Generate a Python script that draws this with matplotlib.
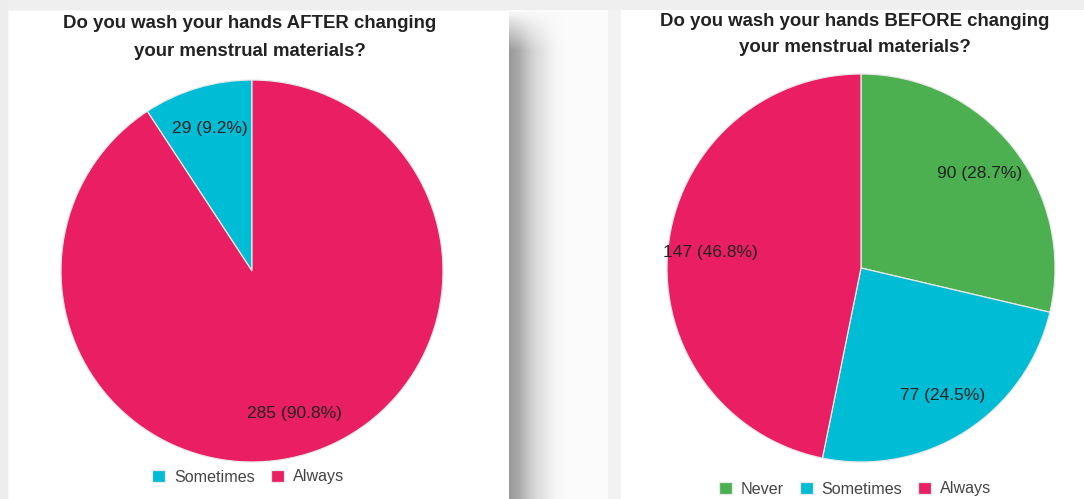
import numpy as np
import matplotlib
matplotlib.use("Agg")
import matplotlib.pyplot as plt
from matplotlib.patches import Rectangle

plt.rcParams['font.family'] = ['Liberation Sans', 'DejaVu Sans']

# Figure size in pixels (dpi 100)
W, H = 1084, 499

# Survey answers
after_labels = ["Sometimes", "Always"]
after_counts = [29, 285]
before_labels = ["Never", "Sometimes", "Always"]
before_counts = [90, 77, 147]

after_title = ["Do you wash your hands AFTER changing", "your menstrual materials?"]
before_title = ["Do you wash your hands BEFORE changing", "your menstrual materials?"]

COLORS = {"Never": "#4caf50", "Sometimes": "#00bcd4", "Always": "#e91e63"}


def make_background():
    # light grey page with card shadows
    bg = np.full((H, W), 0.965)
    bg[:10, :] = 0.94
    bg[:, :8] = 0.93
    xs = np.arange(W)
    ys = np.arange(H)
    # shadow to the right of the left card
    prof_x = [509, 519, 527, 534, 542, 550, 557, 566]
    prof_v = [0.60, 0.67, 0.77, 0.84, 0.89, 0.94, 0.97, 0.985]
    shade = np.interp(xs, prof_x, prof_v, left=0.985, right=0.985)
    fade = np.clip((ys - 10) / 40.0, 0, 1)
    sh = 0.985 - (0.985 - shade[None, :]) * fade[:, None]
    bg[10:, 509:570] = sh[10:, 509:570]
    bg[10:, 570:608] = 0.985
    bg[10:, 608:621] = 0.95
    return np.dstack([bg, bg, bg])


def draw_pie(fig, cx, cy, r, labels, counts, counterclock, title, title_x, title_y, legend_x, legend_y):
    ax = fig.add_axes([(cx - r) / W, 1 - (cy + r) / H, 2 * r / W, 2 * r / H])
    ax.patch.set_alpha(0)
    total = sum(counts)

    def fmt(pct):
        n = int(round(pct * total / 100.0))
        return f"{n} ({pct:.1f}%)"

    wedges, _, autotexts = ax.pie(
        counts,
        colors=[COLORS[l] for l in labels],
        startangle=90,
        counterclock=counterclock,
        autopct=fmt,
        pctdistance=0.78,
        wedgeprops=dict(edgecolor="#e8e8e8", linewidth=0.9),
        textprops=dict(fontsize=12.5, color="#222222"),
    )
    ax.set_xlim(-1, 1)
    ax.set_ylim(-1, 1)
    ax.set_aspect("auto")
    ax.axis("off")

    for i, line in enumerate(title):
        fig.text(title_x / W, 1 - (title_y + 27 * i) / H, line, ha="center", va="center",
                 fontsize=13.4, fontweight="bold", color="#222222")

    leg = fig.legend(wedges, labels, loc="center", bbox_to_anchor=(legend_x / W, 1 - legend_y / H),
                     ncol=len(labels), frameon=False, fontsize=11.6, handlelength=0.8, handleheight=0.8,
                     handletextpad=0.55, columnspacing=1.0, borderaxespad=0)
    for t in leg.get_texts():
        t.set_color("#444444")
    return ax


fig = plt.figure(figsize=(W / 100, H / 100), dpi=100)
fig.figimage(make_background(), 0, 0, origin="upper", zorder=-3)

# white cards behind the charts
fig.patches.append(Rectangle((9 / W, 0), 500 / W, 1 - 11 / H, transform=fig.transFigure,
                             facecolor="white", edgecolor="none", zorder=-2))
fig.patches.append(Rectangle((621 / W, 0), (W - 621) / W, 1 - 10 / H, transform=fig.transFigure,
                             facecolor="white", edgecolor="none", zorder=-2))

draw_pie(fig, 252, 271, 191, after_labels, after_counts, True, after_title, 250, 24, 248, 477)
draw_pie(fig, 861, 268, 194, before_labels, before_counts, False, before_title, 855, 21, 855, 489)

fig.savefig("out.png", dpi=100)
